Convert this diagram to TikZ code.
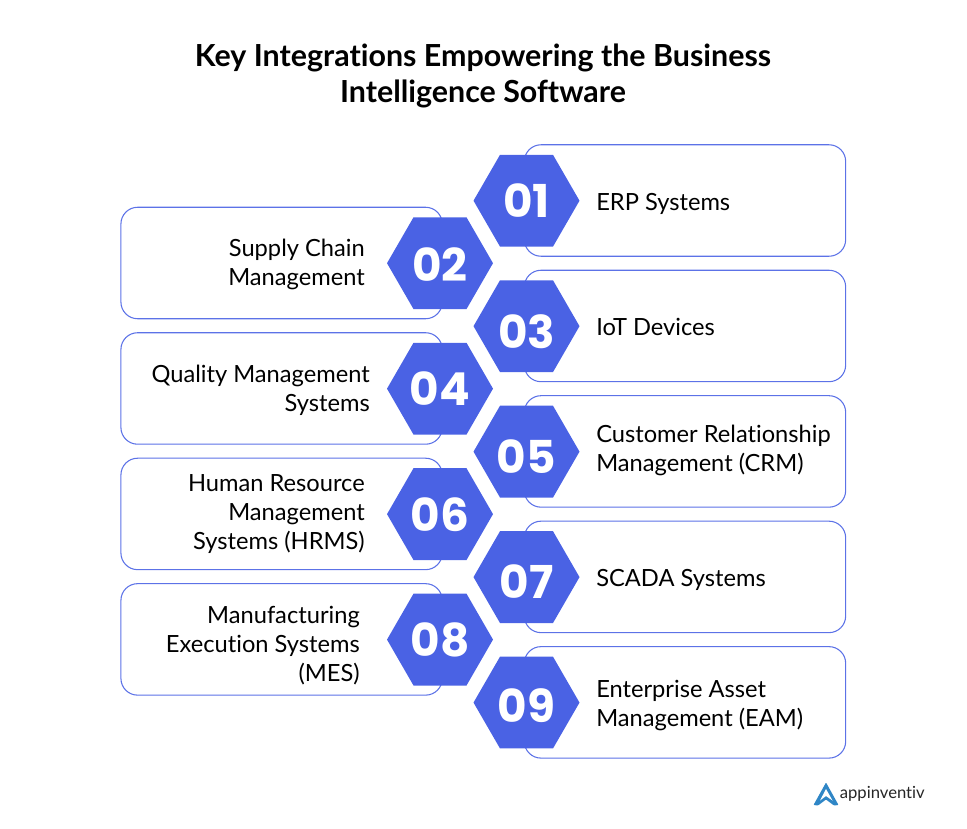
\documentclass[tikz,border=0pt]{standalone}
\usepackage{fontspec}
\setmainfont[Ligatures=NoCommon]{Lato}
\newfontfamily\numfont{Poppins}
\usetikzlibrary{shapes.geometric, positioning}
\definecolor{hexblue}{HTML}{4A62E4}
\definecolor{logoblue}{HTML}{2F86C6}
\tikzset{cellbox/.style={draw=hexblue!90, line width=0.8pt, rounded corners=12.5pt, minimum width=241pt, minimum height=83.6pt, inner sep=0pt}}
\tikzset{hexcell/.style={regular polygon, regular polygon sides=6, fill=hexblue, outer sep=0pt, inner sep=0pt, minimum size=79.5pt}}
\tikzset{hexnum/.style={text=white, inner sep=0pt, font=\numfont\bfseries\fontsize{34}{34}\selectfont}}
\tikzset{itemtext/.style={inner sep=0pt, font=\fontsize{17.75}{21.75}\selectfont}}

\begin{document}
\begin{tikzpicture}[x=0.75pt, y=-0.75pt, node distance=94.1pt]
  \useasboundingbox (0,0) rectangle (967,828);
  \node(title) [align=center, font=\bfseries\fontsize{22.8}{27}\selectfont] at (483,75.5) {Key Integrations Empowering the Business\\Intelligence Software};

  \node(box1) [cellbox] at (685,200.5) {};
  \node(box3) [cellbox, below of=box1] {};
  \node(box5) [cellbox, below of=box3] {};
  \node(box7) [cellbox, below of=box5] {};
  \node(box9) [cellbox, below of=box7] {};
  \node(box2) [cellbox] at (281.6,263) {};
  \node(box4) [cellbox, below of=box2] {};
  \node(box6) [cellbox, below of=box4] {};
  \node(box8) [cellbox, below of=box6] {};

  \node(hex1) [hexcell] at (526.5,200.7) {};
  \node(hex3) [hexcell, below of=hex1] {};
  \node(hex5) [hexcell, below of=hex3] {};
  \node(hex7) [hexcell, below of=hex5] {};
  \node(hex9) [hexcell, below of=hex7] {};
  \node(hex2) [hexcell] at (440,263.2) {};
  \node(hex4) [hexcell, below of=hex2] {};
  \node(hex6) [hexcell, below of=hex4] {};
  \node(hex8) [hexcell, below of=hex6] {};

  \node(num1) [hexnum] at (526.5,200.5) {01};
  \node(num3) [hexnum] at (526.5,332) {03};
  \node(num5) [hexnum] at (526.5,456.5) {05};
  \node(num7) [hexnum] at (526.5,581.5) {07};
  \node(num9) [hexnum] at (526.5,705.5) {09};
  \node(num2) [hexnum] at (440,264.5) {02};
  \node(num4) [hexnum] at (440,389) {04};
  \node(num6) [hexnum] at (440,514.5) {06};
  \node(num8) [hexnum] at (440,640) {08};

  \node(erp) [itemtext, anchor=west] at (596,204) {ERP Systems};
  \node(iot) [itemtext, anchor=west] at (596,326.5) {IoT Devices};
  \node(crm) [itemtext, anchor=west, align=left] at (596,450.5) {Customer Relationship\\Management (CRM)};
  \node(scada) [itemtext, anchor=west] at (596,580) {SCADA Systems};
  \node(eam) [itemtext, anchor=west, align=left] at (596,706) {Enterprise Asset\\Management (EAM)};
  \node(scm) [itemtext, anchor=east, align=right] at (365,264) {Supply Chain\\Management};
  \node(qms) [itemtext, anchor=east, align=right] at (370,390) {Quality Management\\Systems};
  \node(hrms) [itemtext, anchor=east, align=right] at (365,514) {Human Resource\\Management\\Systems (HRMS)};
  \node(mes) [itemtext, anchor=east, align=right] at (360,646) {Manufacturing\\Execution Systems\\(MES)};

  % logo
  \fill[logoblue, rounded corners=0.6pt] (826,782.5) -- (838.5,805) -- (834,805.5) -- (826,799.5) -- (818,805.5) -- (813.5,805) -- cycle;
  \fill[white] (826,789) -- (832.5,800.5) -- (826,796) -- (820,800.5) -- cycle;
  \node(logo) [inner sep=0pt, anchor=west, font=\fontsize{12.5}{14}\selectfont, text=black!85] at (839.5,794) {appinventiv};
\end{tikzpicture}
\end{document}
